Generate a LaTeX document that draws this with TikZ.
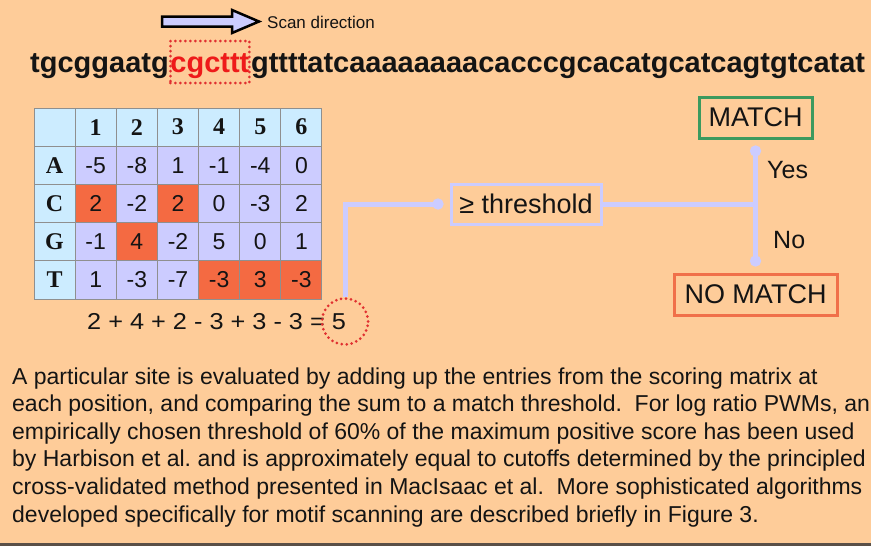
\documentclass[tikz,border=0pt]{standalone}
\usepackage{fontspec}
\usepackage{graphicx}
\setmainfont{Liberation Sans}
\newfontfamily\hdrfont{Liberation Serif}
\usetikzlibrary{arrows.meta}
\definecolor{bgc}{HTML}{FECC99}
\definecolor{lav}{HTML}{CCCCFF}
\definecolor{hdrc}{HTML}{CCECFF}
\definecolor{hotc}{HTML}{F46A42}
\definecolor{gridc}{HTML}{8F8F8F}
\definecolor{greenc}{HTML}{3C9A5F}
\definecolor{nomc}{HTML}{F0704A}
\definecolor{dotred}{HTML}{E03030}
\definecolor{seqred}{HTML}{EE1A1A}
\definecolor{inkc}{HTML}{141414}
\definecolor{barc}{HTML}{5A5048}
\begin{document}
\begin{tikzpicture}[x=1pt,y=-1pt,
  txt/.style={inner sep=0pt, text=inkc},
  seqfont/.style={font=\bfseries\fontsize{29}{32}\selectfont},
  dotline/.style={draw=dotred, line width=3pt, dash pattern=on 0pt off 5pt, line cap=round},
  cellbox/.style={draw=gridc, line width=1pt, minimum width=41.14pt, minimum height=38.2pt, inner sep=0pt, text=inkc},
  hdr/.style={cellbox, fill=hdrc, font=\hdrfont\bfseries\fontsize{24}{26}\selectfont},
  body/.style={cellbox, fill=lav, font=\fontsize{23}{26}\selectfont},
  hot/.style={body, fill=hotc},
  conn/.style={draw=lav, line width=5pt},
  tipc/.style={-{Circle[length=11pt,width=11pt]}, shorten >=6pt},
  boxtxt/.style={inner sep=0pt, text=inkc, font=\fontsize{27}{30}\selectfont, line width=3pt},
  para/.style={txt, anchor=base west, font=\fontsize{23}{27.6}\selectfont\frenchspacing}
]
\useasboundingbox (0,0) rectangle (871,546);
\fill[bgc] (0,0) rectangle (871,546);
\fill[barc] (0,543) rectangle (871,546);

% scan direction arrow
\draw[black, line width=2.5pt, fill=lav, line join=miter]
  (162,16.5) -- (232,16.5) -- (232,10) -- (259,21.5) -- (232,33) -- (232,26.5) -- (162,26.5) -- cycle;
\node[txt, anchor=west, font=\fontsize{17}{20}\selectfont] (scan) at (267,22) {Scan direction};

% sequence
\node[txt, anchor=base west, seqfont] (s1) at (30,72) {tgcggaatg};
\node[txt, anchor=base west, seqfont, text=seqred, dotline, text height=31pt, text depth=11pt] (s2) at (s1.base east) {cgcttt};
\node[txt, anchor=base west, seqfont] (s3) at (s2.base east) {gttttatcaaaaaaaacacccgcacatgcatcagtgtcatat};

% scoring matrix
\node[hdr] (r0-0) at (54.57,127.1) {};
\foreach \n [count=\j] in {1,...,6}
  \node[hdr] (r0-\j) at ({34+41.14*(\j+0.5)},127.1) {\n};
\foreach \lab [count=\i] in {A,C,G,T}
  \node[hdr] (r\i-0) at (54.57,{108+38.2*(\i+0.5)}) {\lab};
\foreach \v/\s [count=\j] in {-5/body,-8/body,1/body,-1/body,-4/body,0/body}
  \node[\s] (r1-\j) at ({34+41.14*(\j+0.5)},{108+38.2*1.5}) {\v};
\foreach \v/\s [count=\j] in {2/hot,-2/body,2/hot,0/body,-3/body,2/body}
  \node[\s] (r2-\j) at ({34+41.14*(\j+0.5)},{108+38.2*2.5}) {\v};
\foreach \v/\s [count=\j] in {-1/body,4/hot,-2/body,5/body,0/body,1/body}
  \node[\s] (r3-\j) at ({34+41.14*(\j+0.5)},{108+38.2*3.5}) {\v};
\foreach \v/\s [count=\j] in {1/body,-3/body,-7/body,-3/hot,3/hot,-3/hot}
  \node[\s] (r4-\j) at ({34+41.14*(\j+0.5)},{108+38.2*4.5}) {\v};

% sum
\node[txt, anchor=west, font=\fontsize{23}{26}\selectfont] (sumtxt) at (87,321.5) {\scalebox{1.1}[1]{2 + 4 + 2 - 3 + 3 - 3 = 5}};
\node[circle, dotline, minimum size=46pt, inner sep=0pt] (sum) at (345,321.5) {};

% decision
\node[boxtxt, draw=lav, minimum width=150pt, minimum height=40pt] (thr) at (526,204) {≥ threshold};
\node[boxtxt, draw=greenc, minimum width=113pt, minimum height=41pt] (match) at (755.5,117.5) {MATCH};
\node[boxtxt, draw=nomc, minimum width=163pt, minimum height=41pt] (nomatch) at (755.5,294.5) {NO MATCH};
\coordinate (jn) at (755.5,204);

\draw[conn, tipc] (sum.north) |- (thr.west);
\draw[conn] (thr.east) -- (jn);
\draw[conn, tipc] (jn) -- (match.south);
\draw[conn, tipc] (jn) -- (nomatch.north);

\node[txt, anchor=west, font=\fontsize{25}{28}\selectfont] (yes) at (767,170) {Yes};
\node[txt, anchor=west, font=\fontsize{25}{28}\selectfont] (no) at (773,240) {No};

% paragraph
\begin{scope}
\clip (0,0) rectangle (871,546);
\node[para] (p1) at (12,384) {A particular site is evaluated by adding up the entries from the scoring matrix at};
\node[para] (p2) at (12,411.6) {each position, and comparing the sum to a match threshold.\ \ For log ratio PWMs, an};
\node[para] (p3) at (12,439.2) {empirically chosen threshold of 60\% of the maximum positive score has been used};
\node[para] (p4) at (12,466.8) {by Harbison et al. and is approximately equal to cutoffs determined by the principled};
\node[para] (p5) at (12,494.4) {cross-validated method presented in MacIsaac et al.\ \ More sophisticated algorithms};
\node[para] (p6) at (12,522) {developed specifically for motif scanning are described briefly in Figure 3.};
\end{scope}
\end{tikzpicture}
\end{document}
